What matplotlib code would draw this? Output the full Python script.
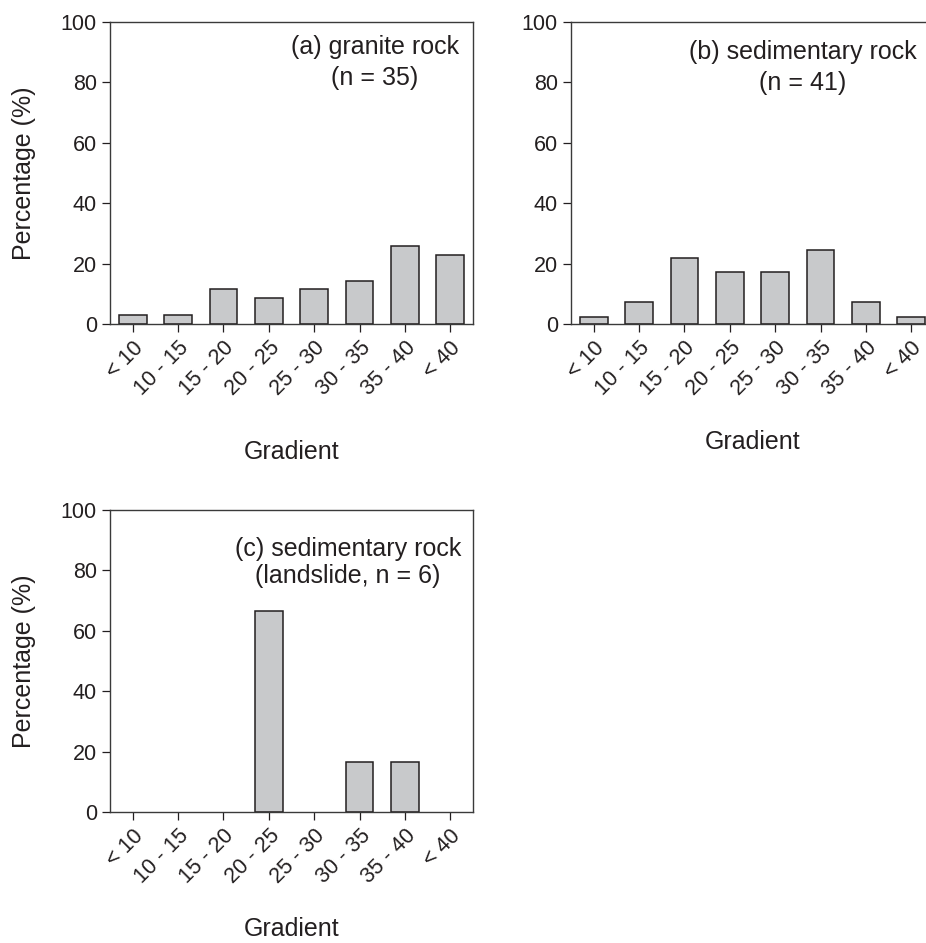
import matplotlib.pyplot as plt
import numpy as np

plt.rcParams['font.family'] = ['Liberation Sans', 'DejaVu Sans']

# gradient classes and counts -> percentages
classes = ['< 10', '10 - 15', '15 - 20', '20 - 25', '25 - 30', '30 - 35', '35 - 40', '< 40']
granite = [2.86, 2.86, 11.43, 8.57, 11.43, 14.29, 25.71, 22.86]          # n = 35
sedimentary = [2.44, 7.32, 21.95, 17.07, 17.07, 24.39, 7.32, 2.44]       # n = 41
landslide = [0, 0, 0, 66.67, 0, 16.67, 16.67, 0]                          # n = 6
yticks = [0, 20, 40, 60, 80, 100]

txt = '#231f20'
W, H = 926, 943

fig = plt.figure(figsize=(W / 100, H / 100), dpi=100)

def px_axes(x0, y0, x1, y1):
    # pixel box (top-left origin) -> figure fraction
    return fig.add_axes([x0 / W, 1 - y1 / H, (x1 - x0) / W, (y1 - y0) / H])

panels = [
    (px_axes(110, 22, 473, 324), granite, ['(a) granite rock', '(n = 35)'], 5.34, (91.8, 81.5), True, 29),
    (px_axes(571, 22, 934, 324), sedimentary, ['(b) sedimentary rock', '(n = 41)'], 4.61, (90.0, 79.8), False, 22),
    (px_axes(110, 510, 473, 812), landslide, ['(c) sedimentary rock', '(landslide, n = 6)'], 4.74, (87.0, 78.0), True, 21),
]

x = np.arange(len(classes))
for ax, vals, label, lx, ly, ylab, xpad in panels:
    vals = np.array(vals)
    keep = vals > 0
    ax.bar(x[keep], vals[keep], width=0.61, color='#c8c9cb', edgecolor='#231f20', linewidth=1.1, zorder=2)
    ax.set_xlim(-0.5, 7.5)
    ax.set_ylim(0, 100)
    ax.set_yticks(yticks)
    ax.set_xticks(x)
    ax.set_xticklabels(classes, rotation=45, ha='right', rotation_mode='anchor')
    ax.tick_params(direction='out', length=5.5, width=0.9, colors=txt, labelsize=15.5, pad=4)
    for s in ax.spines.values():
        s.set_linewidth(1.0)
        s.set_color('#3a3a3a')
    ax.text(lx, ly[0], label[0], ha='center', va='center', fontsize=18, color=txt)
    ax.text(lx, ly[1], label[1], ha='center', va='center', fontsize=18, color=txt)
    ax.set_xlabel('Gradient', fontsize=18, color=txt, labelpad=xpad)
    if ylab:
        ax.set_ylabel('Percentage (%)', fontsize=18, color=txt, labelpad=18)

plt.savefig('out.png', dpi=100)
